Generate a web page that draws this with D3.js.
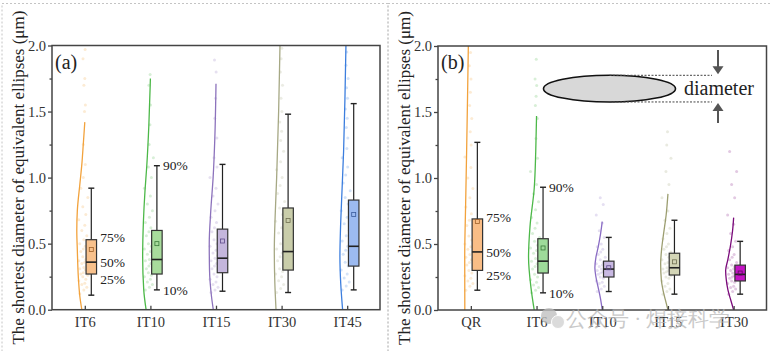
<!DOCTYPE html>
<html>
<head>
<meta charset="utf-8">
<script src="https://cdn.jsdelivr.net/npm/d3@7"></script>
<style>
  body { margin: 0; background: #fff; }
  svg, svg text { font-family: "Liberation Serif", "Times New Roman", Times, "DejaVu Serif", serif; }
  svg { display: block; }
</style>
</head>
<body>
<div id="chart"></div>
<script>
/* Half violin + box plots of shortest diameter of equivalent ellipses */

const catsA = ["IT6", "IT10", "IT15", "IT30", "IT45"];
const catsB = ["QR", "IT6", "IT10", "IT15", "IT30"];
const yTicks = [0, 0.5, 1.0, 1.5, 2.0];
const yMinor = [0.25, 0.75, 1.25, 1.75];

// box statistics (10%, 25%, 50%, 75%, 90%, mean)
const p10A = [0.11, 0.15, 0.14, 0.13, 0.15];
const p25A = [0.27, 0.27, 0.28, 0.30, 0.33];
const p50A = [0.36, 0.38, 0.39, 0.44, 0.48];
const p75A = [0.53, 0.60, 0.61, 0.77, 0.83];
const p90A = [0.92, 1.09, 1.10, 1.48, 1.56];
const meanA = [0.455, 0.50, 0.52, 0.675, 0.72];

const p10B = [0.15, 0.13, 0.14, 0.12, 0.12];
const p25B = [0.30, 0.28, 0.25, 0.265, 0.22];
const p50B = [0.44, 0.37, 0.31, 0.32, 0.27];
const p75B = [0.69, 0.54, 0.37, 0.43, 0.34];
const p90B = [1.27, 0.93, 0.55, 0.68, 0.52];
const meanB = [0.67, 0.47, 0.32, 0.365, 0.28];

// density curves: [diameter, relative density]
const curvesA = [
  [[0, 0.33], [0.1, 0.55], [0.25, 0.72], [0.45, 0.83], [0.6, 0.89], [0.75, 0.83], [0.95, 0.55], [1.1, 0.33], [1.25, 0.17], [1.42, 0]],
  [[0, 0.48], [0.15, 0.74], [0.4, 0.86], [0.66, 0.78], [0.9, 0.6], [1.08, 0.41], [1.4, 0.17], [1.75, 0]],
  [[0, 0.3], [0.1, 0.5], [0.3, 0.72], [0.5, 0.75], [0.75, 0.58], [1.0, 0.32], [1.3, 0.13], [1.71, 0]],
  [[0, 0.62], [0.2, 0.75], [0.45, 0.81], [0.7, 0.72], [1.0, 0.55], [1.5, 0.33], [2.0, 0.18], [2.1, 0.15]],
  [[0, 0.51], [0.2, 0.72], [0.4, 0.81], [0.6, 0.75], [0.83, 0.62], [1.2, 0.4], [1.6, 0.25], [2.0, 0.14], [2.1, 0.12]]
];
const curvesB = [
  [[0, 0.67], [0.4, 0.68], [0.8, 0.58], [1.2, 0.47], [1.6, 0.37], [2.0, 0.28], [2.1, 0.26]],
  [[0, 0.26], [0.17, 0.62], [0.4, 0.89], [0.63, 0.73], [0.92, 0.26], [1.2, 0.09], [1.47, 0]],
  [[0, 0], [0.08, 0.18], [0.17, 0.45], [0.25, 0.7], [0.32, 0.82], [0.4, 0.7], [0.48, 0.44], [0.58, 0.18], [0.67, 0]],
  [[0, 0], [0.08, 0.3], [0.15, 0.55], [0.225, 0.73], [0.35, 0.81], [0.45, 0.72], [0.58, 0.48], [0.72, 0.2], [0.88, 0]],
  [[0, 0], [0.07, 0.3], [0.15, 0.63], [0.23, 0.82], [0.3, 0.89], [0.38, 0.65], [0.48, 0.37], [0.6, 0.12], [0.7, 0]]
];

// raw measurements (faint dots)
const dotsA = [
  [0.12, 0.15, 0.17, 0.19, 0.2, 0.22, 0.23, 0.25, 0.26, 0.27, 0.28, 0.3, 0.31, 0.32, 0.33, 0.35, 0.36, 0.37, 0.38, 0.4, 0.42, 0.44, 0.46, 0.48, 0.5, 0.53, 0.56, 0.6, 0.64, 0.68, 0.72, 0.78, 0.85, 0.92, 1.0, 1.1, 1.25, 1.5, 1.55, 1.7, 1.75, 1.9, 1.97],
  [0.15, 0.17, 0.19, 0.21, 0.23, 0.25, 0.26, 0.28, 0.3, 0.31, 0.33, 0.35, 0.37, 0.38, 0.4, 0.42, 0.44, 0.46, 0.48, 0.5, 0.53, 0.56, 0.59, 0.62, 0.66, 0.7, 0.75, 0.8, 0.86, 0.92, 1.0, 1.08, 1.15, 1.25, 1.4, 1.55, 1.7, 1.78],
  [0.13, 0.15, 0.17, 0.19, 0.21, 0.23, 0.25, 0.27, 0.29, 0.31, 0.33, 0.35, 0.37, 0.39, 0.41, 0.43, 0.45, 0.48, 0.5, 0.53, 0.56, 0.59, 0.62, 0.66, 0.7, 0.75, 0.8, 0.86, 0.92, 1.0, 1.08, 1.15, 1.3, 1.45, 1.6, 1.8, 1.89],
  [0.13, 0.16, 0.19, 0.22, 0.25, 0.27, 0.29, 0.31, 0.34, 0.37, 0.4, 0.43, 0.46, 0.5, 0.54, 0.58, 0.62, 0.67, 0.72, 0.77, 0.82, 0.88, 0.94, 1.0, 1.06, 1.12, 1.2, 1.28, 1.35, 1.42, 1.5, 1.6, 1.7, 1.8, 1.9, 1.98],
  [0.15, 0.18, 0.21, 0.24, 0.27, 0.3, 0.33, 0.36, 0.39, 0.42, 0.45, 0.48, 0.52, 0.56, 0.6, 0.65, 0.7, 0.75, 0.8, 0.85, 0.9, 0.96, 1.02, 1.08, 1.15, 1.22, 1.3, 1.38, 1.45, 1.52, 1.6, 1.68, 1.75, 1.85, 1.95]
];
const dotsB = [
  [0.15, 0.18, 0.2, 0.22, 0.24, 0.26, 0.28, 0.3, 0.32, 0.34, 0.36, 0.38, 0.4, 0.42, 0.44, 0.46, 0.48, 0.5, 0.53, 0.56, 0.6, 0.64, 0.68, 0.73, 0.78, 0.85, 0.92, 1.0, 1.08, 1.16, 1.25, 1.35, 1.45, 1.55, 1.65, 1.75, 1.85, 1.95],
  [0.13, 0.15, 0.17, 0.19, 0.21, 0.23, 0.25, 0.27, 0.29, 0.31, 0.33, 0.35, 0.37, 0.39, 0.41, 0.43, 0.45, 0.47, 0.49, 0.52, 0.55, 0.58, 0.62, 0.66, 0.7, 0.76, 0.82, 0.88, 0.95, 1.05, 1.15, 1.3, 1.45, 1.55, 1.62, 1.7, 1.75, 1.9],
  [0.14, 0.16, 0.18, 0.2, 0.21, 0.22, 0.24, 0.25, 0.26, 0.27, 0.28, 0.29, 0.3, 0.31, 0.32, 0.33, 0.34, 0.35, 0.36, 0.38, 0.4, 0.42, 0.44, 0.46, 0.48, 0.5, 0.55, 0.6, 0.66, 0.72, 0.8, 0.85],
  [0.12, 0.14, 0.16, 0.18, 0.2, 0.22, 0.24, 0.25, 0.26, 0.28, 0.29, 0.3, 0.31, 0.32, 0.33, 0.35, 0.36, 0.38, 0.4, 0.42, 0.44, 0.46, 0.48, 0.5, 0.54, 0.58, 0.62, 0.68, 0.75, 0.85, 0.95, 1.05, 1.15, 1.25, 1.35],
  [0.12, 0.14, 0.16, 0.17, 0.18, 0.2, 0.21, 0.22, 0.23, 0.24, 0.25, 0.26, 0.27, 0.28, 0.29, 0.3, 0.31, 0.32, 0.33, 0.34, 0.36, 0.38, 0.4, 0.42, 0.45, 0.48, 0.52, 0.58, 0.65, 0.72, 0.85, 0.95, 1.05, 1.2]
];

const fillA = ["#f8c18c", "#a8dc9c", "#c4b6dc", "#c9cdaa", "#9cbaf0"];
const lineA = ["#f2a23c", "#4cb848", "#8c72bc", "#a6a884", "#3c7ede"];
const markA = ["#a0622a", "#3a7a3a", "#5e4a8a", "#6e6e50", "#3a5a9a"];
const fillB = ["#f9bd86", "#9edb9a", "#c8b8e2", "#d3d5b6", "#c414c4"];
const lineB = ["#f2a23c", "#4cb848", "#8a6cc4", "#9c9e70", "#7a0a7a"];
const markB = ["#a0622a", "#3a7a3a", "#5e4a8a", "#6e6e50", "#5a0a5a"];

const serif = "'Liberation Serif', 'Times New Roman', Times, 'DejaVu Serif', serif";
const width = 770, height = 351;
const jitter = [-5, -1, 2, -3, 0, -6, 1, -2, 3, -4, -1.5, 0.5];

const svg = d3.select("#chart").append("svg")
    .attr("width", width)
    .attr("height", height)
    .attr("viewBox", [0, 0, width, height])
    .style("font-family", serif);

// dashed panel frames
svg.append("rect").attr("x", 2).attr("y", 3.5).attr("width", 386).attr("height", 360)
    .attr("fill", "none").attr("stroke", "#c4c4c4").attr("stroke-dasharray", "2,2");
svg.append("rect").attr("x", 388).attr("y", 3.5).attr("width", 390).attr("height", 360)
    .attr("fill", "none").attr("stroke", "#c4c4c4").attr("stroke-dasharray", "2,2");

function drawPanel(p) {
    const g = svg.append("g");

    const x = d3.scalePoint().domain(p.cats).range([p.left, p.right]).padding(0.5);
    const y = d3.scaleLinear().domain([0, 2]).range([p.bottom, p.top]);
    const w = d3.scaleLinear().domain([0, 1]).range([0, 9]);
    const boxOff = 6.5, boxW = 10.5, capW = 6;

    g.append("clipPath").attr("id", "clip" + p.id)
        .append("rect")
        .attr("x", p.left).attr("y", p.top)
        .attr("width", p.right - p.left).attr("height", p.bottom - p.top);

    const plot = g.append("g").attr("clip-path", `url(#clip${p.id})`);

    // faint dots
    p.cats.forEach((c, i) => {
        plot.append("g").selectAll("circle")
            .data(p.dots[i])
            .join("circle")
            .attr("cx", (d, j) => x(c) + (d > 1.2 ? jitter[j % 12] * 0.3 : jitter[j % 12]))
            .attr("cy", d => y(d))
            .attr("r", 1.5)
            .attr("fill", p.line[i])
            .attr("fill-opacity", 0.22);
    });

    // half-violin curves
    p.cats.forEach((c, i) => {
        const line = d3.line()
            .x(d => x(c) - w(d[1]))
            .y(d => y(d[0]))
            .curve(d3.curveMonotoneY);
        plot.append("path")
            .attr("d", line(p.curves[i]))
            .attr("fill", "none")
            .attr("stroke", p.line[i])
            .attr("stroke-width", 1.3);
    });

    // boxes
    p.cats.forEach((c, i) => {
        const cx = x(c) + boxOff;
        const bg = g.append("g").attr("stroke", "#222").attr("fill", "none");
        bg.append("line").attr("x1", cx).attr("x2", cx)
            .attr("y1", y(p.p90[i])).attr("y2", y(p.p75[i])).attr("stroke-width", 1.2);
        bg.append("line").attr("x1", cx).attr("x2", cx)
            .attr("y1", y(p.p25[i])).attr("y2", y(p.p10[i])).attr("stroke-width", 1.2);
        bg.append("line").attr("x1", cx - capW / 2).attr("x2", cx + capW / 2)
            .attr("y1", y(p.p90[i])).attr("y2", y(p.p90[i])).attr("stroke-width", 1.4);
        bg.append("line").attr("x1", cx - capW / 2).attr("x2", cx + capW / 2)
            .attr("y1", y(p.p10[i])).attr("y2", y(p.p10[i])).attr("stroke-width", 1.4);
        bg.append("rect")
            .attr("x", cx - boxW / 2).attr("width", boxW)
            .attr("y", y(p.p75[i])).attr("height", y(p.p25[i]) - y(p.p75[i]))
            .attr("fill", p.fill[i]).attr("stroke", "#333").attr("stroke-width", 1.2);
        bg.append("line").attr("x1", cx - boxW / 2).attr("x2", cx + boxW / 2)
            .attr("y1", y(p.p50[i])).attr("y2", y(p.p50[i])).attr("stroke-width", 1.6);
        bg.append("rect")
            .attr("x", cx - 2).attr("y", y(p.mean[i]) - 2)
            .attr("width", 4).attr("height", 4)
            .attr("fill", "none").attr("stroke", p.mark[i]).attr("stroke-width", 0.8);
    });

    // percentile labels
    const lab = g.append("g").attr("font-size", 13.5).attr("fill", "#222");
    const c0 = p.cats[0], c1 = p.cats[1];
    lab.append("text").attr("x", x(c0) + boxOff + 9).attr("y", y(p.p75[0]) - 2)
        .attr("dy", "0.35em").text("75%");
    lab.append("text").attr("x", x(c0) + boxOff + 9).attr("y", y(p.p50[0]))
        .attr("dy", "0.35em").text("50%");
    lab.append("text").attr("x", x(c0) + boxOff + 9).attr("y", y(p.p25[0]) + 5)
        .attr("dy", "0.35em").text("25%");
    lab.append("text").attr("x", x(c1) + boxOff + 6).attr("y", y(p.p90[1]))
        .attr("dy", "0.35em").text("90%");
    lab.append("text").attr("x", x(c1) + boxOff + 6).attr("y", y(p.p10[1]))
        .attr("dy", "0.35em").text("10%");

    // frame
    g.append("rect")
        .attr("x", p.left).attr("y", p.top)
        .attr("width", p.right - p.left).attr("height", p.bottom - p.top)
        .attr("fill", "none").attr("stroke", "#444").attr("stroke-width", 1.5);

    // axes
    const yAxis = g.append("g")
        .attr("transform", `translate(${p.left},0)`)
        .call(d3.axisLeft(y).tickValues(yTicks).tickSize(4).tickPadding(2).tickFormat(d3.format(".1f")));
    const yAxisMinor = g.append("g")
        .attr("transform", `translate(${p.left},0)`)
        .call(d3.axisLeft(y).tickValues(yMinor).tickSize(2.5).tickFormat(""));
    const xAxis = g.append("g")
        .attr("transform", `translate(0,${p.bottom})`)
        .call(d3.axisBottom(x).tickSize(-4).tickPadding(7));

    [yAxis, yAxisMinor, xAxis].forEach(a => {
        a.attr("font-family", serif).attr("font-size", 14.5);
        a.select(".domain").remove();
        a.selectAll("line").attr("stroke", "#444").attr("stroke-width", 1.3);
        a.selectAll("text").attr("fill", "#333");
    });

    // y title
    g.append("text")
        .attr("transform", `translate(${p.left - 34},${(p.top + p.bottom) / 2}) rotate(-90)`)
        .attr("text-anchor", "middle")
        .attr("dy", "0.35em")
        .attr("font-size", 17)
        .attr("fill", "#222")
        .text("The shortest diameter of equivalent ellipses (\u03bcm)");

    // panel letter
    g.append("text")
        .attr("x", p.left + 3).attr("y", p.top + 23)
        .attr("font-size", 20).attr("fill", "#222")
        .text(p.letter);

    return { x, y };
}

drawPanel({
    id: "a", letter: "(a)", left: 52, right: 380, top: 45.5, bottom: 309.7,
    cats: catsA, p10: p10A, p25: p25A, p50: p50A, p75: p75A, p90: p90A, mean: meanA,
    curves: curvesA, dots: dotsA, fill: fillA, line: lineA, mark: markA
});

const pb = drawPanel({
    id: "b", letter: "(b)", left: 438, right: 766.5, top: 46, bottom: 310,
    cats: catsB, p10: p10B, p25: p25B, p50: p50B, p75: p75B, p90: p90B, mean: meanB,
    curves: curvesB, dots: dotsB, fill: fillB, line: lineB, mark: markB
});

// ellipse sketch in panel (b)
const ann = svg.append("g");
const eTop = pb.y(1.778), eBot = pb.y(1.576), eMid = (eTop + eBot) / 2;
ann.append("ellipse")
    .attr("cx", 609.5).attr("cy", eMid).attr("rx", 66).attr("ry", (eBot - eTop) / 2)
    .attr("fill", "#d8d8d8").attr("stroke", "#111").attr("stroke-width", 1.6);
ann.append("line").attr("x1", 609.5).attr("x2", 712).attr("y1", eTop).attr("y2", eTop)
    .attr("stroke", "#444").attr("stroke-dasharray", "2,1.5").attr("stroke-width", 1);
ann.append("line").attr("x1", 609.5).attr("x2", 712).attr("y1", eBot).attr("y2", eBot)
    .attr("stroke", "#444").attr("stroke-dasharray", "2,1.5").attr("stroke-width", 1);
// arrows
ann.append("line").attr("x1", 718).attr("x2", 718).attr("y1", 50).attr("y2", eTop - 6)
    .attr("stroke", "#555").attr("stroke-width", 2);
ann.append("path").attr("d", `M712.5,${eTop - 9} L723.5,${eTop - 9} L718,${eTop - 1} Z`).attr("fill", "#555");
ann.append("line").attr("x1", 718).attr("x2", 718).attr("y1", eBot + 6).attr("y2", 123)
    .attr("stroke", "#555").attr("stroke-width", 2);
ann.append("path").attr("d", `M712.5,${eBot + 9} L723.5,${eBot + 9} L718,${eBot + 1} Z`).attr("fill", "#555");
ann.append("text").attr("x", 684).attr("y", eMid).attr("dy", "0.33em")
    .attr("font-size", 20).attr("fill", "#222").text("diameter");

// watermark
const wm = svg.append("g").attr("opacity", 0.75);
wm.append("circle").attr("cx", 549).attr("cy", 316).attr("r", 8).attr("fill", "#bdbdbd");
wm.append("circle").attr("cx", 558).attr("cy", 322).attr("r", 6.5).attr("fill", "#cfcfcf").attr("stroke", "#fff").attr("stroke-width", 1);
wm.append("text").attr("x", 566).attr("y", 326)
    .attr("font-family", "Noto Sans CJK SC, sans-serif")
    .attr("font-size", 21).attr("fill", "#b8b8b8")
    .text("公众号 · 焊接科学");
</script>
</body>
</html>
